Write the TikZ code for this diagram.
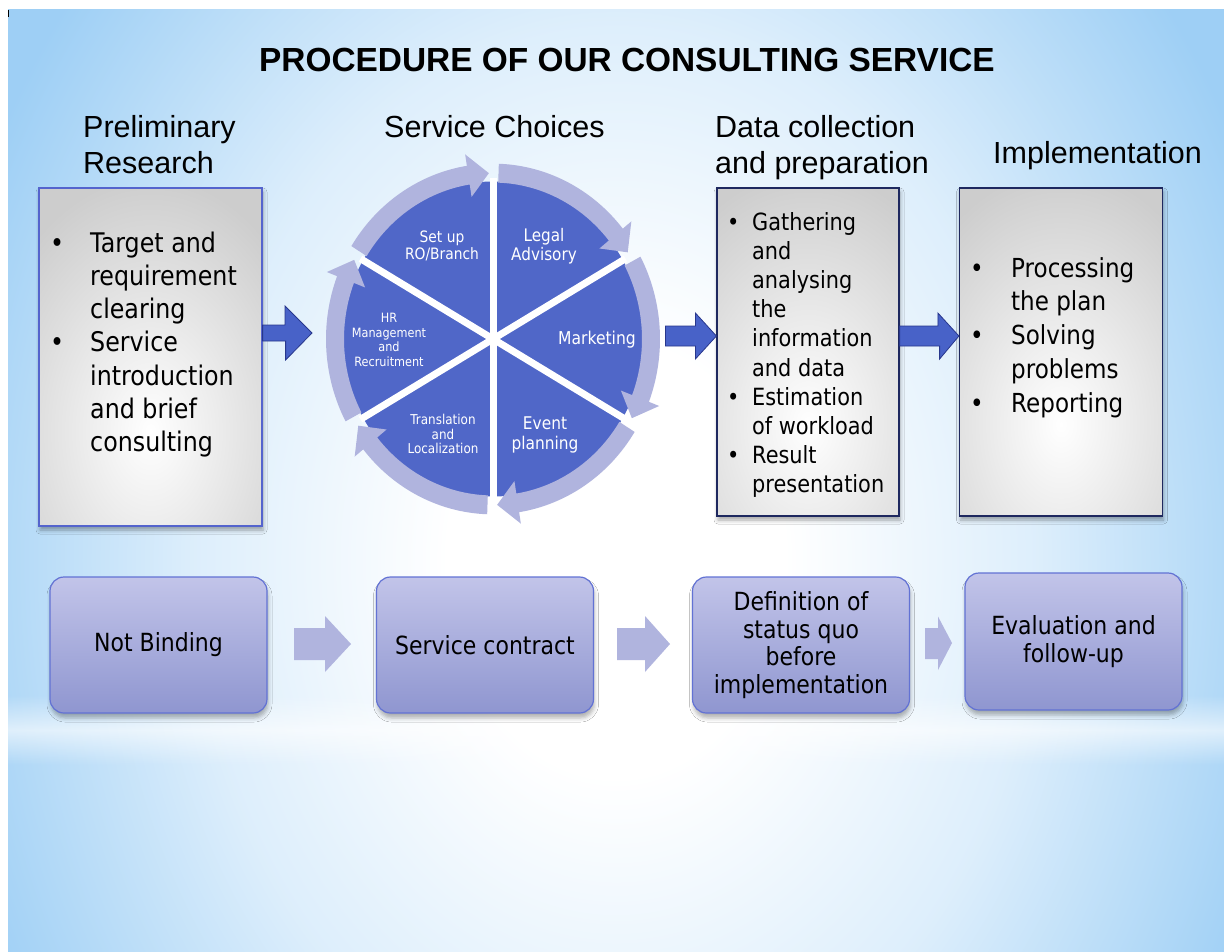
\documentclass[tikz,border=0pt]{standalone}
\usepackage{fontspec}
\setmainfont{Liberation Sans}
\newfontfamily\arialf{Liberation Sans}
\newfontfamily\tahf[FakeStretch=0.88]{DejaVu Sans}
\usetikzlibrary{calc,shadows.blur,fadings}
\definecolor{bgblue}{RGB}{158,207,245}
\definecolor{piec}{RGB}{80,103,200}
\definecolor{ringc}{RGB}{176,180,222}
\definecolor{arrc}{RGB}{72,98,200}
\definecolor{arrd}{RGB}{40,55,140}
\definecolor{boxgray}{RGB}{205,205,205}
\definecolor{boxbA}{RGB}{84,100,205}
\definecolor{boxbB}{RGB}{30,40,95}
\definecolor{lavtop}{RGB}{194,196,233}
\definecolor{lavbot}{RGB}{143,150,208}
\definecolor{lavline}{RGB}{98,114,212}
\pgfdeclareradialshading{bgshade}{\pgfpoint{0bp}{0bp}}{color(0bp)=(white); color(6bp)=(white); color(15bp)=(bgblue!35!white); color(25bp)=(bgblue); color(50bp)=(bgblue)}
\tikzfading[name=streakfade, top color=transparent!100, bottom color=transparent!100, middle color=transparent!40]
\tikzset{
  head/.style={anchor=base west, inner sep=0pt, font=\arialf\fontsize{30.5}{36.5}\selectfont},
  lst/.style={anchor=base west, inner sep=0pt},
  gbox/.style={rectangle, inner sep=0pt, line width=1.2pt,
    blur shadow={shadow xshift=1pt, shadow yshift=-4pt, shadow opacity=35, shadow blur radius=4pt},
    path picture={
      \fill[boxgray] (path picture bounding box.north west) rectangle (path picture bounding box.south east);
      \shade[inner color=white, outer color=boxgray] ($(path picture bounding box.north)!0.72!(path picture bounding box.south)$) ellipse [x radius=175, y radius=255];
    }},
  barrow/.style={fill=arrc, draw=arrd, line width=0.8pt},
  larrow/.style={fill=ringc},
  lbox/.style={rectangle, rounded corners=14pt, draw=lavline, line width=1.2pt,
    top color=lavtop, bottom color=lavbot, minimum width=217pt, minimum height=136pt,
    align=center, inner sep=0pt, font=\tahf\fontsize{25}{27.5}\selectfont,
    blur shadow={shadow xshift=1pt, shadow yshift=-5pt, shadow opacity=30, shadow blur radius=4pt}},
  pl/.style={text=white, align=center, inner sep=0pt},
}
\begin{document}
\begin{tikzpicture}[x=1pt,y=-1pt]
\useasboundingbox (0,0) rectangle (1224,951);
\fill[white] (0,0) rectangle (1224,951);
\begin{scope}
  \clip (8,9) rectangle (1224,951);
  \shade[shading=bgshade] (-84,-340) rectangle (1316,1460);
  \fill[white, path fading=streakfade] (8,695) rectangle (1224,765);
\end{scope}
\draw[black, line width=1.2pt] (8.6,10) -- (8.6,17);

% title and headings
\node[anchor=base west, inner sep=0pt, font=\arialf\bfseries\fontsize{33.4}{40}\selectfont] (title) at (259,71) {PROCEDURE OF OUR CONSULTING SERVICE};
\node[head] (h1) at (83,137) {\begin{tabular}[t]{@{}l@{}}Preliminary\\Research\end{tabular}};
\node[head] (h2) at (384,137) {Service Choices};
\node[head] (h3) at (715,137) {\begin{tabular}[t]{@{}l@{}}Data collection\\and preparation\end{tabular}};
\node[head] (h4) at (993,163) {Implementation};

% gray boxes
\node[gbox, draw=boxbA, minimum width=223pt, minimum height=338pt] (box1) at (150.5,357) {};
\node[gbox, draw=boxbB, minimum width=182pt, minimum height=328pt] (box2) at (808,352) {};
\node[gbox, draw=boxbB, minimum width=203pt, minimum height=328pt] (box3) at (1061,352) {};

\node[lst, font=\tahf\fontsize{27}{33.3}\selectfont] (t1) at (50,252) {\begin{tabular}[t]{@{}p{40pt}@{}l@{}}\textbullet&Target and\\&requirement\\&clearing\\\textbullet&Service\\&introduction\\&and brief\\&consulting\end{tabular}};
\node[lst, font=\tahf\fontsize{23.7}{29.2}\selectfont] (t2) at (727,230) {\begin{tabular}[t]{@{}p{25pt}@{}l@{}}\textbullet&Gathering\\&and\\&analysing\\&the\\&information\\&and data\\\textbullet&Estimation\\&of workload\\\textbullet&Result\\&presentation\end{tabular}};
\node[lst, font=\tahf\fontsize{26.2}{33.75}\selectfont] (t3) at (970,277) {\begin{tabular}[t]{@{}p{41pt}@{}l@{}}\textbullet&Processing\\&the plan\\\textbullet&Solving\\&problems\\\textbullet&Reporting\end{tabular}};

% service circle
\coordinate (cc) at (493,339);
\begin{scope}[shift={(cc)}, x=1pt, y=1.05pt]
  \fill[piec] (0,0) circle (150);
  \foreach \a in {90,30,-30,-90,-150,150}
    \draw[white, line width=7pt] (0,0) -- (\a:153);
  \foreach \a in {150,90,30,-30,-90,-150}
    \fill[ringc] ({\a-2}:149) arc[start angle={\a-2}, end angle={\a-51}, radius=149]
      -- ({\a-51}:137) -- ({\a-58.5}:158) -- ({\a-51}:178) -- ({\a-51}:167)
      arc[start angle={\a-51}, end angle={\a-2}, radius=167] -- cycle;
\end{scope}
\node[pl, font=\tahf\fontsize{15.7}{17.5}\selectfont] (p1) at (442,246) {Set up\\RO/Branch};
\node[pl, font=\tahf\fontsize{17.3}{19}\selectfont] (p2) at (544,246) {Legal\\Advisory};
\node[pl, font=\tahf\fontsize{17.7}{19}\selectfont] (p3) at (597,340) {Marketing};
\node[pl, font=\tahf\fontsize{17.5}{20}\selectfont] (p4) at (545,435) {Event\\planning};
\node[pl, font=\tahf\fontsize{13.6}{14.7}\selectfont] (p5) at (443,434) {Translation\\and\\Localization};
\node[pl, font=\tahf\fontsize{12.8}{14.7}\selectfont] (p6) at (389,340) {HR\\Management\\and\\Recruitment};

% blue block arrows
\coordinate (a1) at (312,333);
\coordinate (a2) at (717,336);
\coordinate (a3) at (960,336);
\draw[barrow] (a1) -- ++(-27,-27) -- ++(0,19) -- (box1.east |- 0,325) -- (box1.east |- 0,341) -- ++(23,0) -- ++(0,19) -- cycle;
\draw[barrow] (box2.west |- a2) -- ++(-21,-23) -- ++(0,13) -- ++(-30,0) -- ++(0,20) -- ++(30,0) -- ++(0,13) -- cycle;
\draw[barrow] (box3.west |- a3) -- ++(-21,-23) -- ++(0,13) -- (box2.east |- 0,326) -- (box2.east |- 0,346) -- ++(40,0) -- ++(0,13) -- cycle;

% bottom row
\node[lbox] (bA) at (158.5,645) {Not Binding};
\node[lbox] (bB) at (485,645) {Service contract};
\node[lbox] (bC) at (801,645) {Definition of\\status quo\\before\\implementation};
\node[lbox, minimum height=137pt] (bD) at (1073.5,641.5) {Evaluation and\\follow-up};

\coordinate (l1) at (351,644);
\coordinate (l2) at (670,644);
\coordinate (l3) at (952,643);
\fill[larrow] (l1) -- ++(-26,-28) -- ++(0,12) -- ++(-31,0) -- ++(0,32) -- ++(31,0) -- ++(0,12) -- cycle;
\fill[larrow] (l2) -- ++(-25,-28) -- ++(0,12) -- ++(-28,0) -- ++(0,32) -- ++(28,0) -- ++(0,12) -- cycle;
\fill[larrow] (l3) -- ++(-14,-26.5) -- ++(0,11.5) -- ++(-13,0) -- ++(0,31) -- ++(13,0) -- ++(0,11) -- cycle;
\end{tikzpicture}
\end{document}
